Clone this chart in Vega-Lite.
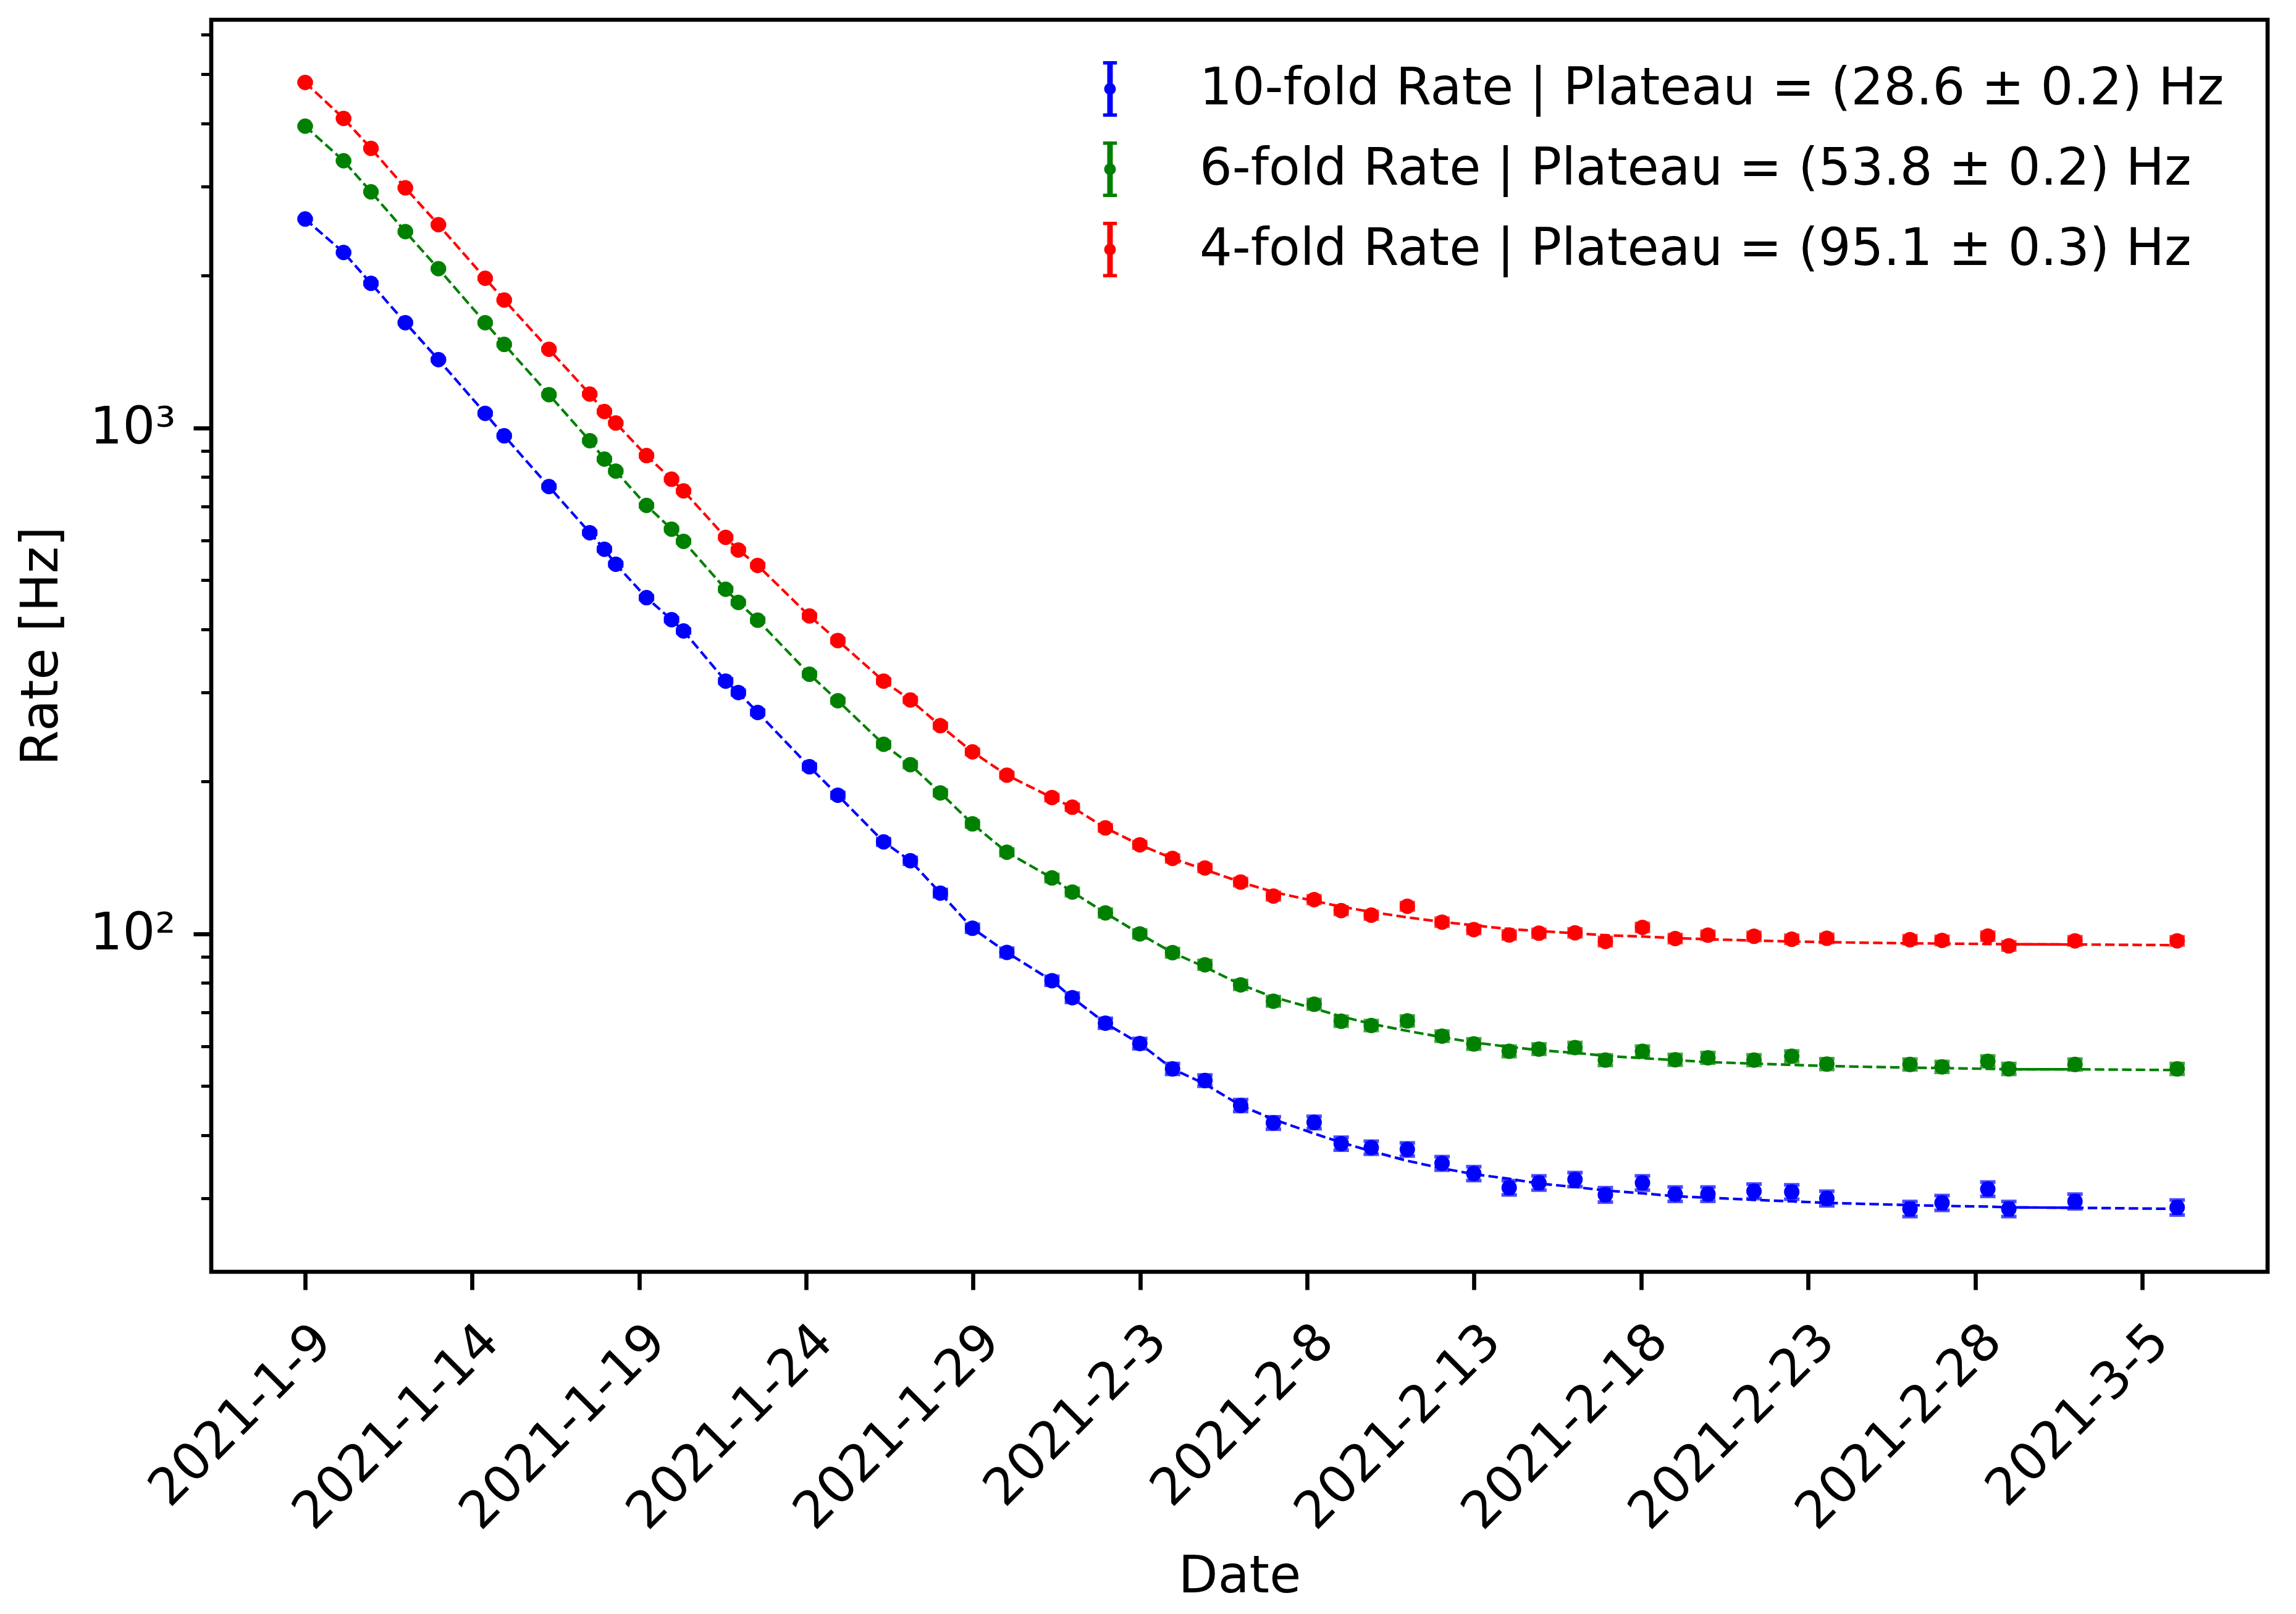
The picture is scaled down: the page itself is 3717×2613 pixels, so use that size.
{
  "$schema": "https://vega.github.io/schema/vega-lite/v6.json",
  "width": 3329,
  "height": 2027,
  "autosize": {"type": "none"},
  "padding": {"left": 342, "top": 32, "right": 46, "bottom": 554},
  "background": "white",
  "data": {
    "format": {"parse": {"date": "date"}},
    "values": [
      {"date":"2021-01-09T00:00","series":"10-fold","rate":2589,"err":9.3,"fit":2589},
      {"date":"2021-01-10T03:36","series":"10-fold","rate":2223,"err":8.6,"fit":2223},
      {"date":"2021-01-10T23:17","series":"10-fold","rate":1932,"err":8.0,"fit":1932},
      {"date":"2021-01-12T00:00","series":"10-fold","rate":1615,"err":7.3,"fit":1615},
      {"date":"2021-01-12T23:46","series":"10-fold","rate":1365,"err":6.7,"fit":1365},
      {"date":"2021-01-14T09:22","series":"10-fold","rate":1069,"err":6.0,"fit":1069},
      {"date":"2021-01-14T23:02","series":"10-fold","rate":965,"err":5.7,"fit":965},
      {"date":"2021-01-16T07:12","series":"10-fold","rate":766,"err":5.1,"fit":766},
      {"date":"2021-01-17T12:29","series":"10-fold","rate":621,"err":4.5,"fit":621},
      {"date":"2021-01-17T23:02","series":"10-fold","rate":576,"err":4.4,"fit":576},
      {"date":"2021-01-18T07:12","series":"10-fold","rate":538,"err":4.2,"fit":538},
      {"date":"2021-01-19T05:17","series":"10-fold","rate":462,"err":3.9,"fit":462},
      {"date":"2021-01-19T23:17","series":"10-fold","rate":418,"err":3.7,"fit":418},
      {"date":"2021-01-20T07:55","series":"10-fold","rate":397,"err":3.6,"fit":397},
      {"date":"2021-01-21T14:10","series":"10-fold","rate":316,"err":3.2,"fit":316},
      {"date":"2021-01-21T23:17","series":"10-fold","rate":300,"err":3.2,"fit":300},
      {"date":"2021-01-22T13:12","series":"10-fold","rate":274,"err":3.0,"fit":274},
      {"date":"2021-01-24T02:24","series":"10-fold","rate":214,"err":2.7,"fit":214},
      {"date":"2021-01-24T22:48","series":"10-fold","rate":188,"err":2.5,"fit":188},
      {"date":"2021-01-26T07:41","series":"10-fold","rate":152,"err":2.25,"fit":152},
      {"date":"2021-01-27T02:53","series":"10-fold","rate":139.5,"err":2.16,"fit":139.5},
      {"date":"2021-01-28T00:29","series":"10-fold","rate":120.4,"err":2.0,"fit":120.4},
      {"date":"2021-01-28T23:31","series":"10-fold","rate":102.6,"err":1.85,"fit":102.6},
      {"date":"2021-01-30T00:14","series":"10-fold","rate":91.9,"err":1.75,"fit":91.9},
      {"date":"2021-01-31T08:38","series":"10-fold","rate":80.8,"err":1.64,"fit":80.8},
      {"date":"2021-01-31T23:17","series":"10-fold","rate":74.8,"err":1.58,"fit":74.8},
      {"date":"2021-02-01T23:02","series":"10-fold","rate":66.6,"err":1.49,"fit":66.6},
      {"date":"2021-02-02T23:46","series":"10-fold","rate":60.7,"err":1.42,"fit":60.7},
      {"date":"2021-02-03T23:17","series":"10-fold","rate":54.1,"err":1.34,"fit":54.1},
      {"date":"2021-02-04T22:34","series":"10-fold","rate":51.3,"err":1.31,"fit":50.5},
      {"date":"2021-02-06T00:14","series":"10-fold","rate":45.8,"err":1.24,"fit":45.8},
      {"date":"2021-02-06T23:46","series":"10-fold","rate":42.3,"err":1.19,"fit":43.0},
      {"date":"2021-02-08T05:02","series":"10-fold","rate":42.4,"err":1.19,"fit":40.3},
      {"date":"2021-02-09T00:29","series":"10-fold","rate":38.5,"err":1.13,"fit":38.7},
      {"date":"2021-02-09T22:05","series":"10-fold","rate":37.8,"err":1.12,"fit":37.2},
      {"date":"2021-02-11T00:00","series":"10-fold","rate":37.5,"err":1.12,"fit":35.6},
      {"date":"2021-02-12T00:58","series":"10-fold","rate":35.2,"err":1.08,"fit":34.4},
      {"date":"2021-02-12T23:46","series":"10-fold","rate":33.6,"err":1.06,"fit":33.5},
      {"date":"2021-02-14T01:12","series":"10-fold","rate":31.5,"err":1.02,"fit":32.8},
      {"date":"2021-02-14T22:34","series":"10-fold","rate":32.2,"err":1.04,"fit":32.1},
      {"date":"2021-02-16T00:29","series":"10-fold","rate":32.7,"err":1.04,"fit":31.6},
      {"date":"2021-02-16T22:19","series":"10-fold","rate":30.5,"err":1.0,"fit":31.1},
      {"date":"2021-02-18T00:58","series":"10-fold","rate":32.2,"err":1.04,"fit":30.7},
      {"date":"2021-02-19T00:29","series":"10-fold","rate":30.6,"err":1.0,"fit":30.3},
      {"date":"2021-02-20T00:00","series":"10-fold","rate":30.6,"err":1.0,"fit":30.1},
      {"date":"2021-02-21T09:07","series":"10-fold","rate":31.0,"err":1.02,"fit":29.8},
      {"date":"2021-02-22T12:14","series":"10-fold","rate":30.9,"err":1.01,"fit":29.6},
      {"date":"2021-02-23T13:26","series":"10-fold","rate":30.0,"err":1.0,"fit":29.4},
      {"date":"2021-02-26T01:12","series":"10-fold","rate":28.6,"err":0.98,"fit":29.1},
      {"date":"2021-02-27T00:14","series":"10-fold","rate":29.4,"err":0.99,"fit":29.0},
      {"date":"2021-02-28T09:07","series":"10-fold","rate":31.3,"err":1.02,"fit":28.9},
      {"date":"2021-03-01T00:14","series":"10-fold","rate":28.6,"err":0.98,"fit":28.8},
      {"date":"2021-03-02T23:46","series":"10-fold","rate":29.6,"err":0.99,"fit":28.75},
      {"date":"2021-03-06T01:12","series":"10-fold","rate":28.8,"err":0.98,"fit":28.6},

      {"date":"2021-01-09T00:00","series":"6-fold","rate":3951,"err":11.5,"fit":3951},
      {"date":"2021-01-10T03:36","series":"6-fold","rate":3375,"err":10.6,"fit":3375},
      {"date":"2021-01-10T23:17","series":"6-fold","rate":2930,"err":9.9,"fit":2930},
      {"date":"2021-01-12T00:00","series":"6-fold","rate":2445,"err":9.0,"fit":2445},
      {"date":"2021-01-12T23:46","series":"6-fold","rate":2065,"err":8.3,"fit":2065},
      {"date":"2021-01-14T09:22","series":"6-fold","rate":1615,"err":7.3,"fit":1615},
      {"date":"2021-01-14T23:02","series":"6-fold","rate":1463,"err":7.0,"fit":1463},
      {"date":"2021-01-16T07:12","series":"6-fold","rate":1164,"err":6.2,"fit":1164},
      {"date":"2021-01-17T12:29","series":"6-fold","rate":944,"err":5.6,"fit":944},
      {"date":"2021-01-17T23:02","series":"6-fold","rate":868,"err":5.4,"fit":868},
      {"date":"2021-01-18T07:12","series":"6-fold","rate":822,"err":5.2,"fit":822},
      {"date":"2021-01-19T05:17","series":"6-fold","rate":703,"err":4.8,"fit":703},
      {"date":"2021-01-19T23:17","series":"6-fold","rate":631,"err":4.6,"fit":631},
      {"date":"2021-01-20T07:55","series":"6-fold","rate":597,"err":4.5,"fit":597},
      {"date":"2021-01-21T14:10","series":"6-fold","rate":480,"err":4.0,"fit":480},
      {"date":"2021-01-21T23:17","series":"6-fold","rate":452,"err":3.9,"fit":452},
      {"date":"2021-01-22T13:12","series":"6-fold","rate":417,"err":3.7,"fit":417},
      {"date":"2021-01-24T02:24","series":"6-fold","rate":326,"err":3.3,"fit":326},
      {"date":"2021-01-24T22:48","series":"6-fold","rate":289,"err":3.1,"fit":289},
      {"date":"2021-01-26T07:41","series":"6-fold","rate":237,"err":2.8,"fit":237},
      {"date":"2021-01-27T02:53","series":"6-fold","rate":216,"err":2.7,"fit":216},
      {"date":"2021-01-28T00:29","series":"6-fold","rate":190,"err":2.5,"fit":190},
      {"date":"2021-01-28T23:31","series":"6-fold","rate":165,"err":2.3,"fit":165},
      {"date":"2021-01-30T00:14","series":"6-fold","rate":145,"err":2.2,"fit":145},
      {"date":"2021-01-31T08:38","series":"6-fold","rate":129,"err":2.1,"fit":129},
      {"date":"2021-01-31T23:17","series":"6-fold","rate":121,"err":2.0,"fit":121},
      {"date":"2021-02-01T23:02","series":"6-fold","rate":110,"err":1.9,"fit":110},
      {"date":"2021-02-02T23:46","series":"6-fold","rate":100,"err":1.8,"fit":100},
      {"date":"2021-02-03T23:17","series":"6-fold","rate":91.8,"err":1.75,"fit":91.8},
      {"date":"2021-02-04T22:34","series":"6-fold","rate":86.9,"err":1.7,"fit":86.0},
      {"date":"2021-02-06T00:14","series":"6-fold","rate":79.3,"err":1.6,"fit":79.4},
      {"date":"2021-02-06T23:46","series":"6-fold","rate":73.6,"err":1.57,"fit":75.0},
      {"date":"2021-02-08T05:02","series":"6-fold","rate":72.6,"err":1.56,"fit":71.2},
      {"date":"2021-02-09T00:29","series":"6-fold","rate":67.2,"err":1.5,"fit":68.7},
      {"date":"2021-02-09T22:05","series":"6-fold","rate":65.9,"err":1.48,"fit":66.4},
      {"date":"2021-02-11T00:00","series":"6-fold","rate":67.3,"err":1.5,"fit":64.3},
      {"date":"2021-02-12T00:58","series":"6-fold","rate":62.8,"err":1.45,"fit":62.5},
      {"date":"2021-02-12T23:46","series":"6-fold","rate":60.6,"err":1.42,"fit":61.0},
      {"date":"2021-02-14T01:12","series":"6-fold","rate":58.6,"err":1.4,"fit":59.8},
      {"date":"2021-02-14T22:34","series":"6-fold","rate":59.2,"err":1.4,"fit":58.9},
      {"date":"2021-02-16T00:29","series":"6-fold","rate":59.6,"err":1.4,"fit":58.2},
      {"date":"2021-02-16T22:19","series":"6-fold","rate":56.3,"err":1.37,"fit":57.4},
      {"date":"2021-02-18T00:58","series":"6-fold","rate":58.6,"err":1.4,"fit":56.8},
      {"date":"2021-02-19T00:29","series":"6-fold","rate":56.4,"err":1.37,"fit":56.3},
      {"date":"2021-02-20T00:00","series":"6-fold","rate":56.9,"err":1.38,"fit":55.8},
      {"date":"2021-02-21T09:07","series":"6-fold","rate":56.3,"err":1.37,"fit":55.4},
      {"date":"2021-02-22T12:14","series":"6-fold","rate":57.3,"err":1.38,"fit":55.1},
      {"date":"2021-02-23T13:26","series":"6-fold","rate":55.3,"err":1.36,"fit":54.8},
      {"date":"2021-02-26T01:12","series":"6-fold","rate":55.2,"err":1.36,"fit":54.4},
      {"date":"2021-02-27T00:14","series":"6-fold","rate":54.6,"err":1.35,"fit":54.3},
      {"date":"2021-02-28T09:07","series":"6-fold","rate":56.0,"err":1.37,"fit":54.1},
      {"date":"2021-03-01T00:14","series":"6-fold","rate":54.1,"err":1.34,"fit":54.0},
      {"date":"2021-03-02T23:46","series":"6-fold","rate":55.2,"err":1.36,"fit":54.0},
      {"date":"2021-03-06T01:12","series":"6-fold","rate":54.1,"err":1.34,"fit":53.8},

      {"date":"2021-01-09T00:00","series":"4-fold","rate":4821,"err":12.7,"fit":4821},
      {"date":"2021-01-10T03:36","series":"4-fold","rate":4093,"err":11.7,"fit":4093},
      {"date":"2021-01-10T23:17","series":"4-fold","rate":3571,"err":10.9,"fit":3571},
      {"date":"2021-01-12T00:00","series":"4-fold","rate":2984,"err":10.0,"fit":2984},
      {"date":"2021-01-12T23:46","series":"4-fold","rate":2523,"err":9.2,"fit":2523},
      {"date":"2021-01-14T09:22","series":"4-fold","rate":1977,"err":8.1,"fit":1977},
      {"date":"2021-01-14T23:02","series":"4-fold","rate":1791,"err":7.7,"fit":1791},
      {"date":"2021-01-16T07:12","series":"4-fold","rate":1431,"err":6.9,"fit":1431},
      {"date":"2021-01-17T12:29","series":"4-fold","rate":1167,"err":6.2,"fit":1167},
      {"date":"2021-01-17T23:02","series":"4-fold","rate":1078,"err":6.0,"fit":1078},
      {"date":"2021-01-18T07:12","series":"4-fold","rate":1023,"err":5.8,"fit":1023},
      {"date":"2021-01-19T05:17","series":"4-fold","rate":882,"err":5.4,"fit":882},
      {"date":"2021-01-19T23:17","series":"4-fold","rate":792,"err":5.1,"fit":792},
      {"date":"2021-01-20T07:55","series":"4-fold","rate":751,"err":5.0,"fit":751},
      {"date":"2021-01-21T14:10","series":"4-fold","rate":608,"err":4.5,"fit":608},
      {"date":"2021-01-21T23:17","series":"4-fold","rate":574,"err":4.4,"fit":574},
      {"date":"2021-01-22T13:12","series":"4-fold","rate":535,"err":4.2,"fit":535},
      {"date":"2021-01-24T02:24","series":"4-fold","rate":425,"err":3.8,"fit":425},
      {"date":"2021-01-24T22:48","series":"4-fold","rate":380,"err":3.6,"fit":380},
      {"date":"2021-01-26T07:41","series":"4-fold","rate":316,"err":3.2,"fit":316},
      {"date":"2021-01-27T02:53","series":"4-fold","rate":290,"err":3.1,"fit":290},
      {"date":"2021-01-28T00:29","series":"4-fold","rate":258,"err":2.9,"fit":258},
      {"date":"2021-01-28T23:31","series":"4-fold","rate":229,"err":2.8,"fit":229},
      {"date":"2021-01-30T00:14","series":"4-fold","rate":206,"err":2.6,"fit":206},
      {"date":"2021-01-31T08:38","series":"4-fold","rate":186,"err":2.5,"fit":186},
      {"date":"2021-01-31T23:17","series":"4-fold","rate":178,"err":2.4,"fit":178},
      {"date":"2021-02-01T23:02","series":"4-fold","rate":162,"err":2.3,"fit":162},
      {"date":"2021-02-02T23:46","series":"4-fold","rate":150,"err":2.2,"fit":150},
      {"date":"2021-02-03T23:17","series":"4-fold","rate":141,"err":2.2,"fit":141},
      {"date":"2021-02-04T22:34","series":"4-fold","rate":135,"err":2.1,"fit":134},
      {"date":"2021-02-06T00:14","series":"4-fold","rate":126.6,"err":2.05,"fit":126.6},
      {"date":"2021-02-06T23:46","series":"4-fold","rate":118.8,"err":2.0,"fit":121.0},
      {"date":"2021-02-08T05:02","series":"4-fold","rate":116.9,"err":2.0,"fit":116.2},
      {"date":"2021-02-09T00:29","series":"4-fold","rate":111.2,"err":1.9,"fit":113.2},
      {"date":"2021-02-09T22:05","series":"4-fold","rate":108.9,"err":1.9,"fit":110.5},
      {"date":"2021-02-11T00:00","series":"4-fold","rate":113.4,"err":1.9,"fit":107.8},
      {"date":"2021-02-12T00:58","series":"4-fold","rate":105.5,"err":1.9,"fit":105.6},
      {"date":"2021-02-12T23:46","series":"4-fold","rate":102.0,"err":1.8,"fit":104.0},
      {"date":"2021-02-14T01:12","series":"4-fold","rate":99.5,"err":1.8,"fit":102.2},
      {"date":"2021-02-14T22:34","series":"4-fold","rate":100.3,"err":1.8,"fit":101.3},
      {"date":"2021-02-16T00:29","series":"4-fold","rate":100.5,"err":1.8,"fit":100.3},
      {"date":"2021-02-16T22:19","series":"4-fold","rate":96.6,"err":1.8,"fit":99.4},
      {"date":"2021-02-18T00:58","series":"4-fold","rate":103.0,"err":1.85,"fit":98.8},
      {"date":"2021-02-19T00:29","series":"4-fold","rate":97.9,"err":1.8,"fit":98.1},
      {"date":"2021-02-20T00:00","series":"4-fold","rate":99.4,"err":1.8,"fit":97.6},
      {"date":"2021-02-21T09:07","series":"4-fold","rate":98.9,"err":1.8,"fit":97.0},
      {"date":"2021-02-22T12:14","series":"4-fold","rate":97.6,"err":1.8,"fit":96.6},
      {"date":"2021-02-23T13:26","series":"4-fold","rate":98.0,"err":1.8,"fit":96.3},
      {"date":"2021-02-26T01:12","series":"4-fold","rate":97.4,"err":1.8,"fit":95.8},
      {"date":"2021-02-27T00:14","series":"4-fold","rate":97.1,"err":1.8,"fit":95.7},
      {"date":"2021-02-28T09:07","series":"4-fold","rate":99.0,"err":1.8,"fit":95.5},
      {"date":"2021-03-01T00:14","series":"4-fold","rate":94.7,"err":1.78,"fit":95.4},
      {"date":"2021-03-02T23:46","series":"4-fold","rate":96.9,"err":1.8,"fit":95.3},
      {"date":"2021-03-06T01:12","series":"4-fold","rate":96.9,"err":1.8,"fit":95.0}
    ]
  },
  "encoding": {
    "x": {
      "field": "date",
      "type": "temporal",
      "scale": {
        "domain": [
          {"year": 2021, "month": 1, "date": 6, "hours": 4, "minutes": 32},
          {"year": 2021, "month": 3, "date": 8, "hours": 18, "minutes": 10}
        ],
        "nice": false
      },
      "axis": {
        "values": [
          {"year": 2021, "month": 1, "date": 9},
          {"year": 2021, "month": 1, "date": 14},
          {"year": 2021, "month": 1, "date": 19},
          {"year": 2021, "month": 1, "date": 24},
          {"year": 2021, "month": 1, "date": 29},
          {"year": 2021, "month": 2, "date": 3},
          {"year": 2021, "month": 2, "date": 8},
          {"year": 2021, "month": 2, "date": 13},
          {"year": 2021, "month": 2, "date": 18},
          {"year": 2021, "month": 2, "date": 23},
          {"year": 2021, "month": 2, "date": 28},
          {"year": 2021, "month": 3, "date": 5}
        ],
        "format": "%Y-%-m-%-d",
        "formatType": "time",
        "labelAngle": -45,
        "labelAlign": "right",
        "labelBaseline": "top",
        "labelPadding": 41,
        "labelDx": -11,
        "labelLimit": 0,
        "labelOverlap": false,
        "labelFlush": false,
        "labelBound": false,
        "title": "Date",
        "titleX": 1664.5,
        "titleY": 518,
        "titleAlign": "center",
        "titleBaseline": "alphabetic"
      }
    },
    "color": {
      "field": "series",
      "type": "nominal",
      "scale": {
        "domain": ["10-fold", "6-fold", "4-fold"],
        "range": ["#0000ff", "#008000", "#ff0000"]
      },
      "legend": {
        "orient": "none",
        "legendX": 1410,
        "legendY": 67,
        "title": null,
        "padding": 0,
        "symbolType": "M-0.25,-1H0.25V-0.88H-0.25Z M-0.25,0.88H0.25V1H-0.25Z M-0.1,-1H0.1V1H-0.1Z M0.21,0A0.21,0.21 0 1,1 -0.21,0A0.21,0.21 0 1,1 0.21,0Z",
        "symbolSize": 8100,
        "symbolStrokeWidth": 0,
        "labelFontSize": 83,
        "labelFont": "DejaVu Sans",
        "labelColor": "black",
        "labelOffset": 100,
        "rowPadding": 40,
        "labelLimit": 3000,
        "labelBaseline": "middle",
        "labelExpr": "datum.label == '10-fold' ? '10-fold Rate | Plateau = (28.6 ± 0.2) Hz' : datum.label == '6-fold' ? '6-fold Rate | Plateau = (53.8 ± 0.2) Hz' : '4-fold Rate | Plateau = (95.1 ± 0.3) Hz'",
        "encode": {
          "symbols": {
            "update": {
              "fill": {"scale": "color", "field": "value"},
              "stroke": {"value": "transparent"},
              "opacity": {"value": 1}
            }
          }
        }
      }
    }
  },
  "layer": [
    {
      "mark": {"type": "line", "strokeWidth": 4.2, "strokeDash": [15.4, 6.7]},
      "encoding": {
        "y": {
          "field": "fit",
          "type": "quantitative",
          "scale": {"type": "log", "domain": [21.48, 6412], "nice": false},
          "axis": {
            "orient": "left",
            "values": [100, 1000],
            "labelExpr": "datum.value == 100 ? '10²' : '10³'",
            "title": "Rate [Hz]",
            "titleAngle": -90,
            "titleX": -250,
            "titleY": 1013.5,
            "titleAlign": "center",
            "titleBaseline": "alphabetic"
          }
        }
      }
    },
    {
      "transform": [
        {"filter": {"field": "date", "range": [
          {"year": 2021, "month": 2, "date": 28, "hours": 12},
          {"year": 2021, "month": 3, "date": 3}
        ]}}
      ],
      "mark": {"type": "line", "strokeWidth": 4.2},
      "encoding": {
        "y": {"field": "fit", "type": "quantitative", "axis": null}
      }
    },
    {
      "mark": {"type": "errorbar", "thickness": 16, "ticks": {"size": 25, "thickness": 6}},
      "encoding": {
        "y": {"field": "rate", "type": "quantitative", "axis": null},
        "yError": {"field": "err"}
      }
    },
    {
      "mark": {"type": "point", "filled": true, "size": 625, "opacity": 1, "shape": "circle"},
      "encoding": {
        "y": {
          "field": "rate",
          "type": "quantitative",
          "axis": {
            "orient": "left",
            "values": [30, 40, 50, 60, 70, 80, 90, 200, 300, 400, 500, 600, 700, 800, 900, 2000, 3000, 4000, 5000, 6000],
            "labels": false,
            "tickSize": 16.7,
            "tickWidth": 5,
            "title": null
          }
        }
      }
    }
  ],
  "resolve": {"axis": {"y": "independent"}},
  "config": {
    "font": "DejaVu Sans",
    "view": {"stroke": "black", "strokeWidth": 6.67},
    "axis": {
      "domain": false,
      "grid": false,
      "tickColor": "black",
      "labelColor": "black",
      "titleColor": "black",
      "labelFont": "DejaVu Sans",
      "titleFont": "DejaVu Sans",
      "labelFontSize": 83,
      "titleFontSize": 83,
      "titleFontWeight": "normal",
      "tickWidth": 6.67,
      "tickSize": 29,
      "labelPadding": 29
    }
  }
}
